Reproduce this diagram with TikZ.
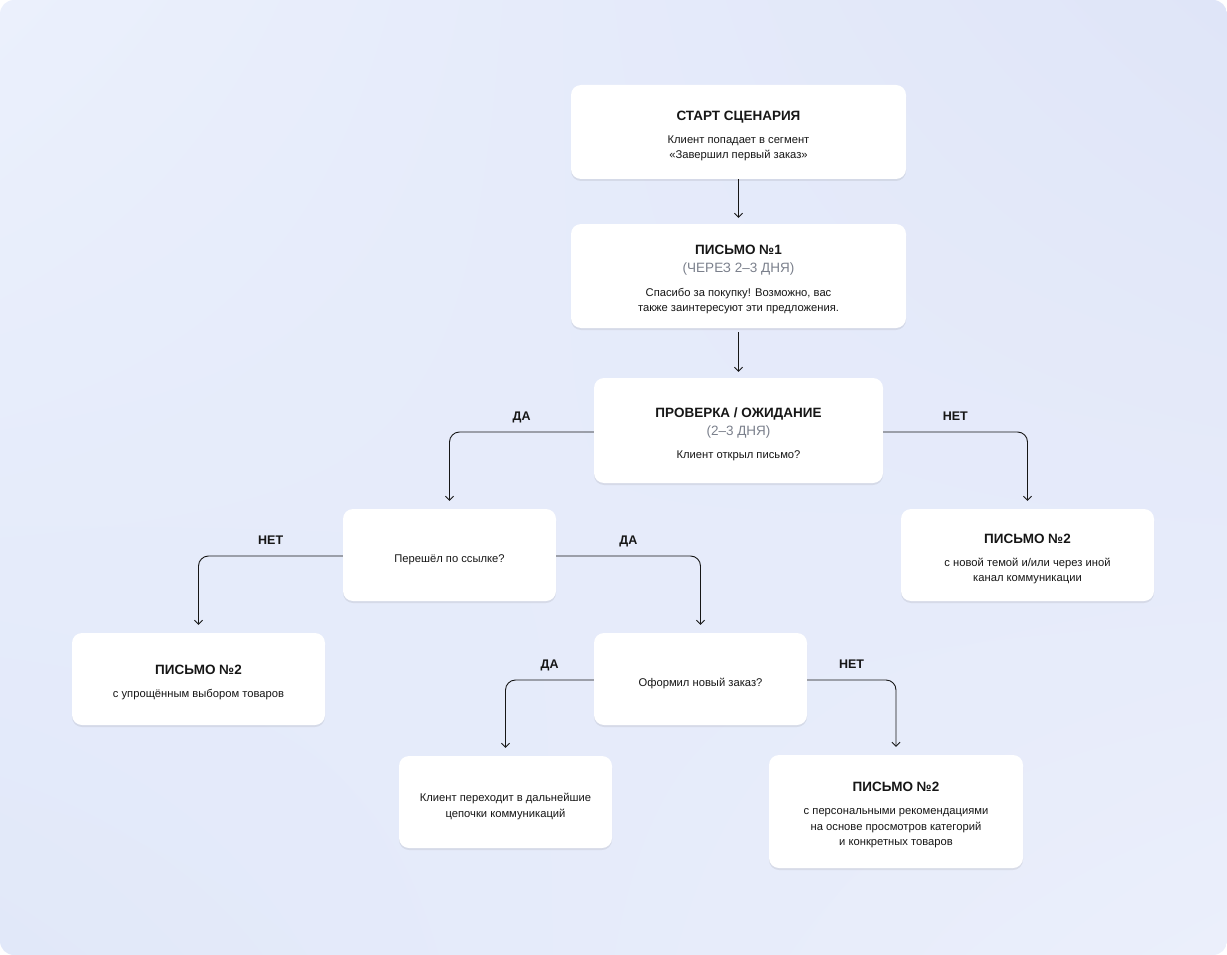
\documentclass[tikz,border=0pt]{standalone}
\usepackage{fontspec}
\setmainfont{Liberation Sans}
\usetikzlibrary{arrows.meta,shadows,shadings}
\definecolor{bgA}{HTML}{EBF0FC}
\definecolor{bgB}{HTML}{DFE5F8}
\definecolor{bgC}{HTML}{E1E8F9}
\definecolor{bgD}{HTML}{EBEFFB}
\definecolor{subgray}{HTML}{7B808C}
\definecolor{ink}{HTML}{161616}
\newcommand{\lift}{\rule{0pt}{17pt}}
\newcommand{\ttl}[1]{{\fontsize{13.5}{16}\selectfont\bfseries\lift #1}}
\newcommand{\subt}[1]{{\fontsize{13.5}{16}\selectfont\color{subgray}#1}}
\begin{document}
\begin{tikzpicture}[x=1pt,y=-1pt]
        \tikzset{box/.style={fill=white, rounded corners=10pt, align=center, inner sep=0pt,
                 text=ink, font=\fontsize{11.2}{15.5}\selectfont,
                 drop shadow={shadow xshift=0pt, shadow yshift=-2pt, opacity=0.12, fill=black!60}},
                 flow/.style={draw=ink, line width=0.9pt, -{Straight Barb[length=4pt,width=8pt]},
                 rounded corners=10pt, shorten >=8pt},
                 lbl/.style={font=\fontsize{12.5}{14}\selectfont\bfseries, text=ink, anchor=base, yshift=12pt, pos=0.25}}
        \useasboundingbox (0,0) rectangle (1227,955);
        \shade[rounded corners=14pt, upper left=bgA, upper right=bgB, lower left=bgC, lower right=bgD]
            (0,0) rectangle (1227,955);
        \node [box, minimum width=335pt, minimum height=94pt]  (start)    at (738.5,132) {\ttl{СТАРТ СЦЕНАРИЯ}\\[7.5pt]Клиент попадает в сегмент\\«Завершил первый заказ»};
        \node [box, minimum width=335pt, minimum height=104pt] (letter1)  at (738.5,276) {\ttl{ПИСЬМО №1}\\[2.5pt]\subt{(ЧЕРЕЗ 2–3 ДНЯ)}\\[8pt]Спасибо за покупку! Возможно, вас\\также заинтересуют эти предложения.};
        \node [box, minimum width=289pt, minimum height=105pt] (check)    at (738.5,430.5) {\ttl{ПРОВЕРКА / ОЖИДАНИЕ}\\[2.5pt]\subt{(2–3 ДНЯ)}\\[8pt]Клиент открыл письмо?};
        \node [box, minimum width=213pt, minimum height=92pt]  (linkq)    at (449.5,555) {\lift Перешёл по ссылке?};
        \node [box, minimum width=253pt, minimum height=92pt]  (letterno) at (1027.5,555) {\ttl{ПИСЬМО №2}\\[7.5pt]с новой темой и/или через иной\\канал коммуникации};
        \node [box, minimum width=253pt, minimum height=92pt]  (lettersim) at (198.5,679) {\ttl{ПИСЬМО №2}\\[7.5pt]с упрощённым выбором товаров};
        \node [box, minimum width=213pt, minimum height=92pt]  (orderq)   at (700.5,679) {\lift Оформил новый заказ?};
        \node [box, minimum width=213pt, minimum height=92pt]  (chain)    at (505.5,802) {\lift Клиент переходит в дальнейшие\\цепочки коммуникаций};
        \node [box, minimum width=254pt, minimum height=113pt] (letterrec) at (896,811.5) {\ttl{ПИСЬМО №2}\\[7.5pt]с персональными рекомендациями\\на основе просмотров категорий\\и конкретных товаров};

        \draw [flow, shorten >=6pt] (start) -- (letter1);
        \draw [flow, shorten >=6pt, shorten <=4pt] (letter1) -- (check);
        \draw [flow] ([yshift=-1.5pt]check.west) -| node [lbl] {ДА} (linkq.north);
        \draw [flow] ([yshift=-1.5pt]check.east) -| node [lbl] {НЕТ} (letterno.north);
        \draw [flow] ([yshift=-1pt]linkq.west) -| node [lbl] {НЕТ} (lettersim.north);
        \draw [flow] ([yshift=-1pt]linkq.east) -| node [lbl] {ДА} (orderq.north);
        \draw [flow] ([yshift=-1pt]orderq.west) -| node [lbl] {ДА} (chain.north);
        \draw [flow] ([yshift=-1pt]orderq.east) -| node [lbl] {НЕТ} (letterrec.north);
    \end{tikzpicture}
\end{document}
